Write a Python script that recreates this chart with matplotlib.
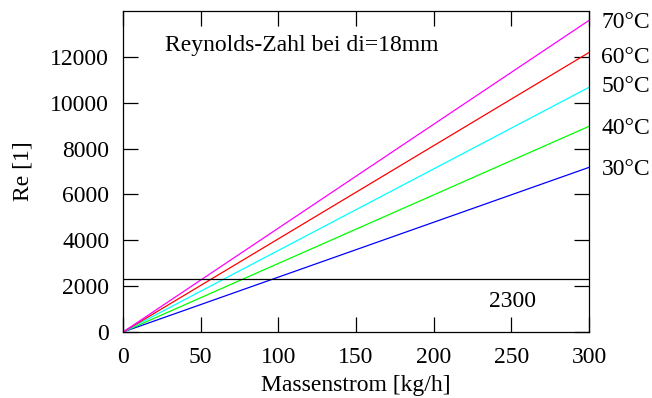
import matplotlib.pyplot as plt

plt.rcParams['font.family'] = ['Liberation Serif', 'DejaVu Serif']

# Massenstrom [kg/h] und Reynolds-Zahl je Temperatur
massenstrom = [0, 300]
re_30 = [0, 7180]
re_40 = [0, 8970]
re_50 = [0, 10670]
re_60 = [0, 12190]
re_70 = [0, 13590]
re_grenze = 2300

temperaturen = ['30°C', '40°C', '50°C', '60°C', '70°C']
serien = [re_30, re_40, re_50, re_60, re_70]
farben = ['#0000ff', '#00ff00', '#00ffff', '#ff0000', '#ff00ff']
label_y = [7080, 8870, 10720, 11960, 13500]

fs = 17

fig = plt.figure(figsize=(6.52, 3.98), dpi=100)
ax = fig.add_axes([0.1887, 0.1658, 0.7147, 0.8066])

for re, farbe in zip(serien, farben):
    ax.plot(massenstrom, re, color=farbe, lw=0.9)

ax.axhline(re_grenze, color='black', lw=0.9)

for t, y in zip(temperaturen, label_y):
    ax.text(308, y, t, fontsize=fs, va='center', ha='left', clip_on=False)

ax.text(251, 1350, str(re_grenze), fontsize=fs, ha='center', va='center')
ax.text(27, 12500, 'Reynolds-Zahl bei di=18mm', fontsize=fs, ha='left', va='center')

ax.set_xlim(0, 300)
ax.set_ylim(0, 14000)
ax.set_xticks(range(0, 301, 50))
ax.set_yticks(range(0, 12001, 2000))
ax.tick_params(direction='in', length=11, width=0.9, labelsize=fs,
               top=True, right=True)
ax.tick_params(axis='y', pad=10)
ax.tick_params(axis='x', pad=11)
for s in ax.spines.values():
    s.set_linewidth(0.9)

ax.set_xlabel('Massenstrom [kg/h]', fontsize=fs, labelpad=5)
ax.set_ylabel('Re [1]', fontsize=fs, labelpad=12)

fig.savefig('out.png', dpi=100)
